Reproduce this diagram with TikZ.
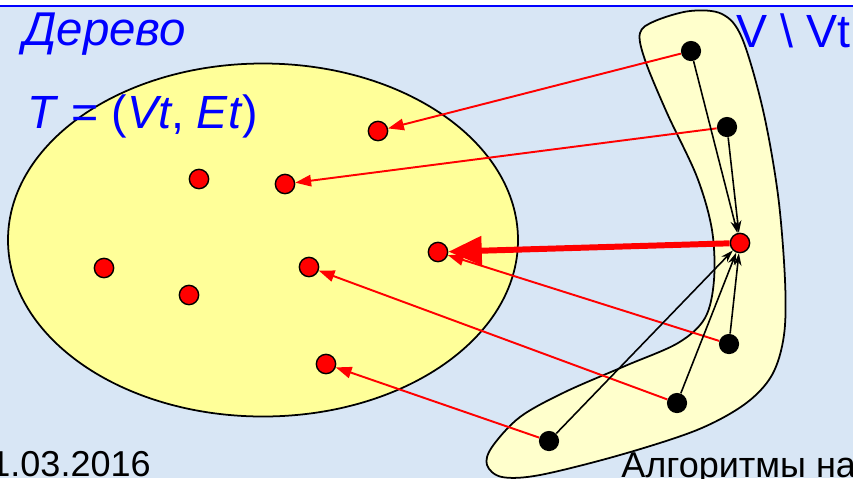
\documentclass[tikz,border=0pt]{standalone}
\usepackage{fontspec}
\setmainfont{Liberation Sans}
\usetikzlibrary{arrows.meta}

\definecolor{slidebg}{RGB}{216,230,245}
\definecolor{treefill}{RGB}{255,255,153}
\definecolor{restfill}{RGB}{255,255,204}

\begin{document}
\begin{tikzpicture}[x=0.02cm, y=-0.02cm,
  tvert/.style={circle, draw=black, line width=0.8pt, fill=red, minimum size=11pt, inner sep=0pt},
  fvert/.style={circle, fill=black, minimum size=11.5pt, inner sep=0pt},
  toedge/.style={draw=red, line width=1.1pt, -{Triangle[length=9pt,width=6.5pt]}},
  minedge/.style={draw=red, line width=3.4pt, -{Triangle[length=19pt,width=16pt]}},
  nbedge/.style={draw=black, line width=0.9pt, -{Stealth[length=7pt,width=4.5pt]}},
  heading/.style={text=blue, font=\fontsize{26.5}{30}\selectfont, inner sep=0pt, anchor=base west},
  footer/.style={text=black, font=\fontsize{20.5}{23}\selectfont, inner sep=0pt}]
\useasboundingbox (0,0) rectangle (853,478);
\clip (0,0) rectangle (853,478);
% Slide background
\fill[slidebg] (0,0) rectangle (853,478);
\fill[white] (0,0) rectangle (853,5);
\draw[blue, line width=1.2pt] (0,6) -- (853,6);
% Tree part and the rest of the vertices
\draw[fill=treefill, line width=1pt] (263,240) ellipse [x radius=255, y radius=176.5];
\draw[fill=restfill, line width=1pt] plot[smooth cycle, tension=0.55] coordinates {
  (640,33) (655,21) (690,11) (722,14) (742,38) (763,110) (778,195) (785,280)
  (784,335) (772,375) (745,404) (697,430) (620,455) (540,475) (502,477)
  (487,465) (492,447) (520,417) (565,392) (625,366) (678,343) (705,318)
  (714,280) (712,230) (697,177) (667,113) (645,60)};
% Labels
\node[heading, font=\fontsize{27}{30}\selectfont\itshape] (lbltree) at (23,45) {Дерево};
\node[heading] (lblpair) at (27,128) {\textit{T} = (\textit{Vt}, \textit{Et})};
\node[heading] (lblrest) at (736,47) {V \textbackslash{} Vt};
\node[footer, anchor=base east] (lbldate) at (151,476) {1.03.2016};
\node[footer, anchor=base west] (lblcourse) at (621,477) {Алгоритмы на};
% Vertices of the tree
\node[tvert] (t1) at (378,131) {};
\node[tvert] (t2) at (199,179) {};
\node[tvert] (t3) at (285,184) {};
\node[tvert] (t4) at (104,268) {};
\node[tvert] (t5) at (189,295) {};
\node[tvert] (t6) at (309,267) {};
\node[tvert] (t7) at (438,252) {};
\node[tvert] (t8) at (326,364) {};
% Vertices outside the tree
\node[fvert] (f1) at (691,51) {};
\node[fvert] (f2) at (727,127) {};
\node[tvert] (fmin) at (740,243) {};
\node[fvert] (f3) at (729,344) {};
\node[fvert] (f4) at (677,403) {};
\node[fvert] (f5) at (549,441) {};
% Nearest tree vertex for every outside vertex
\draw[toedge] (f1) -- (t1);
\draw[toedge] (f2) -- (t3);
\draw[toedge] (f3) -- (t7);
\draw[toedge] (f4) -- (t6);
\draw[toedge] (f5) -- (t8);
\draw[minedge] (fmin) -- (t7);
% Edges to the chosen vertex
\foreach \v in {f1,f2,f3,f4,f5}
  \draw[nbedge] (\v) -- (fmin);
\end{tikzpicture}
\end{document}
